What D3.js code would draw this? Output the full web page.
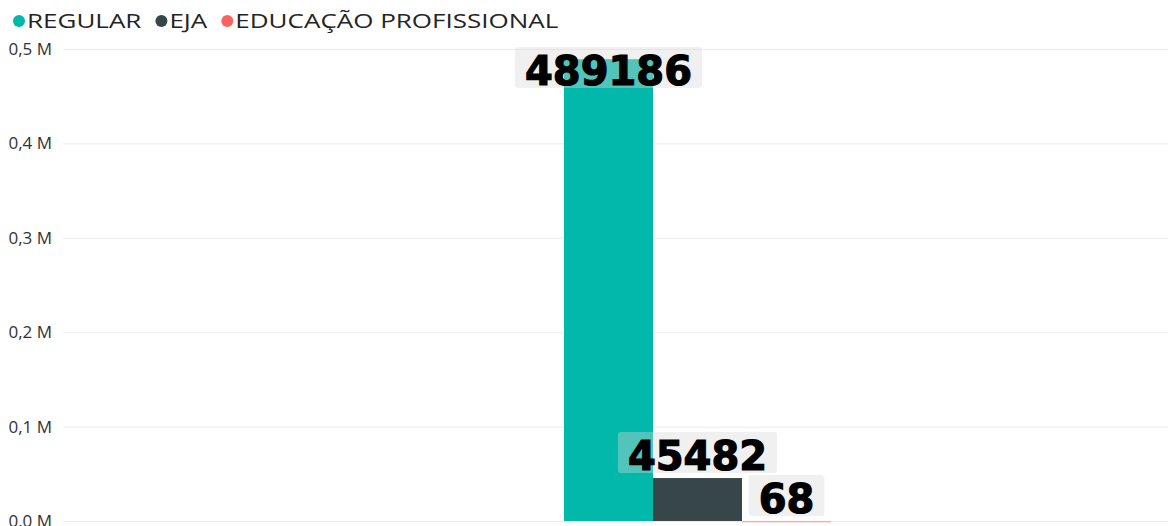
<!DOCTYPE html>
<html>
<head>
<meta charset="utf-8">
<script src="https://cdn.jsdelivr.net/npm/d3@7"></script>
<style>
  body { margin: 0; background: #fff; overflow: hidden; }
  svg { display: block; }
</style>
</head>
<body>
<div id="chart"></div>
<script>
// data
var series = ["REGULAR", "EJA", "EDUCAÇÃO PROFISSIONAL"];
var values = [489186, 45482, 68];
var colors = ["#01B8AA", "#374649", "#FD625E"];
var yTicks = [0, 100000, 200000, 300000, 400000, 500000];
var yTickLabels = ["0,0 M", "0,1 M", "0,2 M", "0,3 M", "0,4 M", "0,5 M"];

var width = 1168, height = 526;
var plotLeft = 63, plotRight = 1168, plotTop = 49, plotBottom = 521;

var svg = d3.select("#chart").append("svg")
    .attr("width", width)
    .attr("height", height);

var y = d3.scaleLinear()
    .domain([0, 500000])
    .range([plotBottom, plotTop]);

// group of three bars for the single category
var x = d3.scaleBand()
    .domain(series)
    .range([564, 831])
    .padding(0);

// gridlines
svg.append("g").selectAll("line")
    .data(yTicks)
  .enter().append("line")
    .attr("x1", plotLeft)
    .attr("x2", plotRight)
    .attr("y1", function(d) { return y(d) + 0.5; })
    .attr("y2", function(d) { return y(d) + 0.5; })
    .style("stroke", "#ececec")
    .style("stroke-width", 1);

// y tick labels
svg.append("g").selectAll("text")
    .data(yTicks)
  .enter().append("text")
    .attr("x", 52)
    .attr("y", function(d) { return y(d); })
    .attr("dy", "0.35em")
    .style("text-anchor", "end")
    .style("font-family", "'Open Sans', sans-serif")
    .style("font-size", "17px")
    .style("fill", "#333")
    .text(function(d, i) { return yTickLabels[i]; });

// bars
svg.append("g").selectAll("rect")
    .data(values)
  .enter().append("rect")
    .attr("x", function(d, i) { return x(series[i]); })
    .attr("width", x.bandwidth())
    .attr("y", function(d) { return y(d); })
    .attr("height", function(d) { return Math.max(plotBottom - y(d), 1.5); })
    .style("fill", function(d, i) { return colors[i]; })
    .style("opacity", function(d) { return plotBottom - y(d) < 1.5 ? 0.45 : 1; });

// data labels
var labels = svg.append("g").selectAll("g")
    .data(values)
  .enter().append("g");

labels.each(function(d, i) {
  var g = d3.select(this);
  var cx = x(series[i]) + x.bandwidth() / 2;
  var boxH = 41;
  var boxTop = y(d) - 5 - boxH;
  if (boxTop < plotTop - 2) boxTop = plotTop - 2;
  var rect = g.append("rect")
      .attr("rx", 3)
      .style("fill", "#d8d8d8")
      .style("fill-opacity", 0.38);
  var t = g.append("text")
      .attr("x", cx)
      .attr("y", boxTop + boxH - 3)
      .style("text-anchor", "middle")
      .style("font-family", "'DejaVu Sans', sans-serif")
      .style("font-weight", "bold")
      .style("font-size", "40px")
      .style("fill", "#000")
      .style("stroke", "#000")
      .style("stroke-width", 1.2)
      .text(d);
  var w = t.node().getComputedTextLength();
  rect.attr("x", cx - w / 2 - 10)
      .attr("y", boxTop)
      .attr("width", w + 20)
      .attr("height", boxH);
});

// legend (text in the reference is drawn a bit wide)
var legend = svg.append("g");
var lx = 13;
series.forEach(function(s, i) {
  legend.append("circle")
      .attr("cx", lx + 6)
      .attr("cy", 21)
      .attr("r", 6)
      .style("fill", colors[i]);
  var t = legend.append("text")
      .attr("x", lx + 14)
      .attr("y", 21)
      .attr("dy", "0.35em")
      .style("font-family", "'Open Sans', sans-serif")
      .style("font-size", "20px")
      .style("fill", "#252423")
      .text(s);
  var w = t.node().getComputedTextLength() * 1.3;
  t.attr("textLength", w).attr("lengthAdjust", "spacingAndGlyphs");
  lx += 14 + w + 14;
});
</script>
</body>
</html>
